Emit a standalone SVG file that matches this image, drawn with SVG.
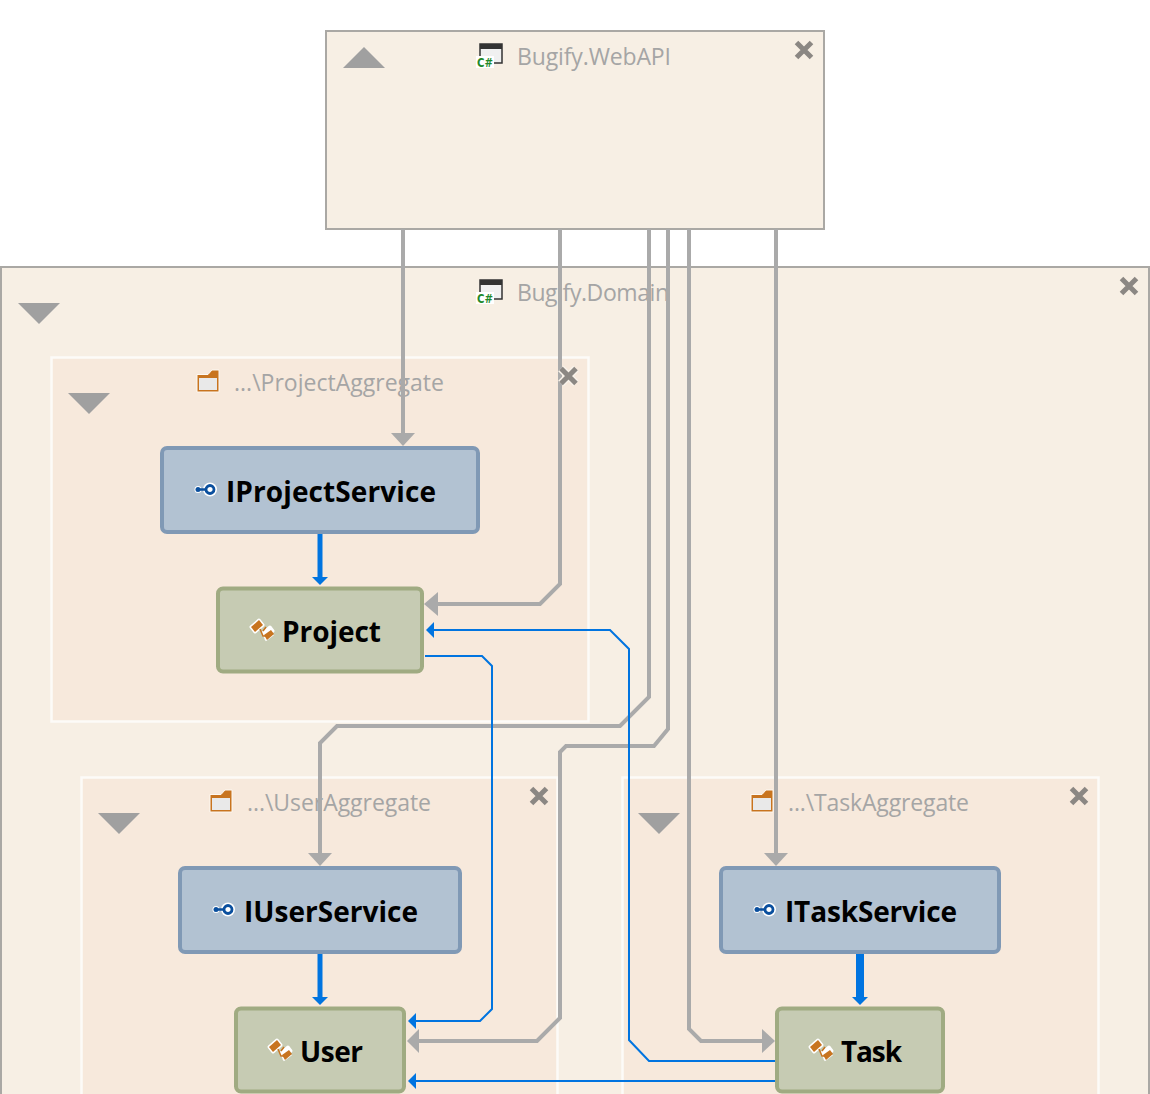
<svg xmlns="http://www.w3.org/2000/svg" width="1150" height="1094" viewBox="0 0 1150 1094">
<style>
.outer{fill:#f7efe4;stroke:#aaa8a4;stroke-width:2}
.inner{fill:#f7e9dc;stroke:#fdfbf8;stroke-width:2.5}
.iface{fill:#b2c2d2;stroke:#8099b5;stroke-width:4}
.cls{fill:#c6cbb3;stroke:#a0ab82;stroke-width:4}
.gt{font-family:"Open Sans","Noto Sans",sans-serif;font-size:23px;fill:#a5a5a5}
.nt{font-family:"Open Sans","Noto Sans",sans-serif;font-size:28px;font-weight:700;fill:#000}
.tri{fill:#a0a0a0}
.x{fill:none;stroke:#8b8783;stroke-width:5}
.xh{fill:none;stroke:#f8f2ea;stroke-width:8}
.g{fill:none;stroke:#aaa;stroke-width:4}
.b{fill:none;stroke:#0074e0;stroke-width:2}
.bb{fill:none;stroke:#0074e0;stroke-width:5}
.bt{fill:none;stroke:#0074e0;stroke-width:8}
.ga{fill:#aaa}
.ba{fill:#0074e0}
.fo{fill:#c8741f;stroke:#fdf8f2;stroke-width:1}
.fi{fill:#e9e9e9}
.ip{fill:#0a4f9e}
</style>
<defs>
<g id="cs"><rect x="3" y="0" width="22" height="19" fill="#f0f0f0" stroke="#333" stroke-width="1.5"/><rect x="3" y="0" width="22" height="5" fill="#333"/><rect x="-1" y="12" width="18" height="12" fill="#fff"/><text x="0" y="23" font-family="'DejaVu Sans',sans-serif" font-size="12.500" font-weight="700" fill="#1f8a2b" textLength="16" lengthAdjust="spacingAndGlyphs">C#</text></g>
<g id="fold"><path class="fo" d="M0 4.500H11L15 0H22V22H0Z"/><rect class="fi" x="2" y="8" width="18" height="12"/></g>
<g id="int"><circle cx="-6" cy="0" r="3.500" fill="#fff"/><circle cx="6" cy="0" r="7" fill="#fff"/><path d="M-7 0H2" stroke="#0a4f9e" stroke-width="2.500"/><circle cx="-6" cy="0" r="2.500" class="ip"/><circle cx="6" cy="0" r="4" fill="#fff" stroke="#0a4f9e" stroke-width="2.800"/></g>
<g id="cl"><path d="M0 -3L8 -10L12 -5L4 2Z M12 3L19 -3L22 1L15 8Z M14 10L22 4" fill="#fff" stroke="#fff" stroke-width="3" stroke-linejoin="round"/><path d="M0 -3L8 -10L12 -5L4 2Z" fill="#c8741f"/><path d="M13 5L20 0L23 4L16 10Z" fill="#c8741f"/><path d="M9 -1L12 6H16M15 -3L12 1" fill="none" stroke="#c8741f" stroke-width="1.500"/></g>
<path id="xx" d="M-7.500 -7.500L7.500 7.500M7.500 -7.500L-7.500 7.500"/>
</defs>

<g id="node-webapi">
<rect class="outer" x="326" y="31" width="498" height="198"/>
<path class="tri" d="M343 68L364 47L385 68Z"/>
<use href="#cs" x="477" y="44"/>
<text class="gt" x="517" y="65" textLength="154">Bugify.WebAPI</text>
</g>
<g id="node-domain">
<rect class="outer" x="1" y="267" width="1148" height="840"/>
<path class="tri" d="M18 303H60L39 324Z"/>
<use href="#cs" x="477" y="280"/>
<text class="gt" x="517" y="301" textLength="152">Bugify.Domain</text>
</g>
<g id="node-projectaggregate">
<rect class="inner" x="51.500" y="357.500" width="537" height="364"/>
<path class="tri" d="M68 393H110L89 414Z"/>
<use href="#fold" x="197" y="370"/>
<text class="gt" x="234" y="391" textLength="210">...\ProjectAggregate</text>
</g>
<g id="node-useraggregate">
<rect class="inner" x="81.500" y="777.500" width="476" height="340"/>
<path class="tri" d="M98 813H140L119 834Z"/>
<use href="#fold" x="210" y="790"/>
<text class="gt" x="247" y="811" textLength="184">...\UserAggregate</text>
</g>
<g id="node-taskaggregate">
<rect class="inner" x="622.500" y="777.500" width="476" height="340"/>
<path class="tri" d="M638 813H680L659 834Z"/>
<use href="#fold" x="751" y="790"/>
<text class="gt" x="788" y="811" textLength="181">...\TaskAggregate</text>
</g>

<g id="node-iprojectservice">
<rect class="iface" x="162" y="448" width="316" height="84" rx="5"/>
<use href="#int" x="204" y="489.500"/>
<text class="nt" x="226" y="502" textLength="210">IProjectService</text>
</g>
<g id="node-project">
<rect class="cls" x="218" y="588.500" width="204" height="83" rx="5"/>
<use href="#cl" x="251" y="630"/>
<text class="nt" x="282" y="642" textLength="99">Project</text>
</g>
<g id="node-iuserservice">
<rect class="iface" x="180" y="868" width="280" height="84" rx="5"/>
<use href="#int" x="222" y="909.500"/>
<text class="nt" x="244" y="922" textLength="174">IUserService</text>
</g>
<g id="node-user">
<rect class="cls" x="236" y="1008.500" width="168" height="83" rx="5"/>
<use href="#cl" x="269" y="1050"/>
<text class="nt" x="300" y="1062" textLength="63">User</text>
</g>
<g id="node-itaskservice">
<rect class="iface" x="721" y="868" width="278" height="84" rx="5"/>
<use href="#int" x="763" y="909.500"/>
<text class="nt" x="785" y="922" textLength="172">ITaskService</text>
</g>
<g id="node-task">
<rect class="cls" x="777" y="1008.500" width="166" height="83" rx="5"/>
<use href="#cl" x="810" y="1050"/>
<text class="nt" x="841" y="1062" textLength="61">Task</text>
</g>

<g id="connectors">
<path class="g" d="M403 229V436"/>
<path class="ga" d="M391 433H415L403 446Z"/>
<path class="g" d="M560 229V584L540 604H436"/>
<path class="ga" d="M424 604L438 592V616Z"/>
<path class="g" d="M649 229V697L620 726H337L320 743V856"/>
<path class="ga" d="M308 853H332L320 866Z"/>
<path class="g" d="M668 229V729L654 746H566L560 752V1018L537 1041H418"/>
<path class="ga" d="M407 1041L419 1029V1053Z"/>
<path class="g" d="M689 229V1029L701 1041H765"/>
<path class="ga" d="M775 1041L762 1029V1053Z"/>
<path class="g" d="M776 229V856"/>
<path class="ga" d="M764 853H788L776 866Z"/>
<path class="bb" d="M320 534V578"/><path class="ba" d="M312 577H328L320 585Z"/>
<path class="bb" d="M320 954V998"/><path class="ba" d="M312 997H328L320 1005Z"/>
<path class="bt" d="M860 954V998"/><path class="ba" d="M852 997H868L860 1005Z"/>
<path class="b" d="M775 1061H649L629 1040V649L610 630H432"/>
<path class="ba" d="M426 630L434 622V638Z"/>
<path class="b" d="M425 656H482L492 666V1009L480 1021H414"/>
<path class="ba" d="M408 1021L416 1013V1029Z"/>
<path class="b" d="M775 1081H414"/>
<path class="ba" d="M408 1081L416 1073V1089Z"/>
</g>

<g id="close-icons">
<use href="#xx" class="xh" x="568.500" y="376"/>
<use href="#xx" class="x" x="804" y="50"/>
<use href="#xx" class="x" x="1129" y="286"/>
<use href="#xx" class="x" x="568.500" y="376"/>
<use href="#xx" class="x" x="539" y="796"/>
<use href="#xx" class="x" x="1079" y="796"/>
</g>
</svg>
